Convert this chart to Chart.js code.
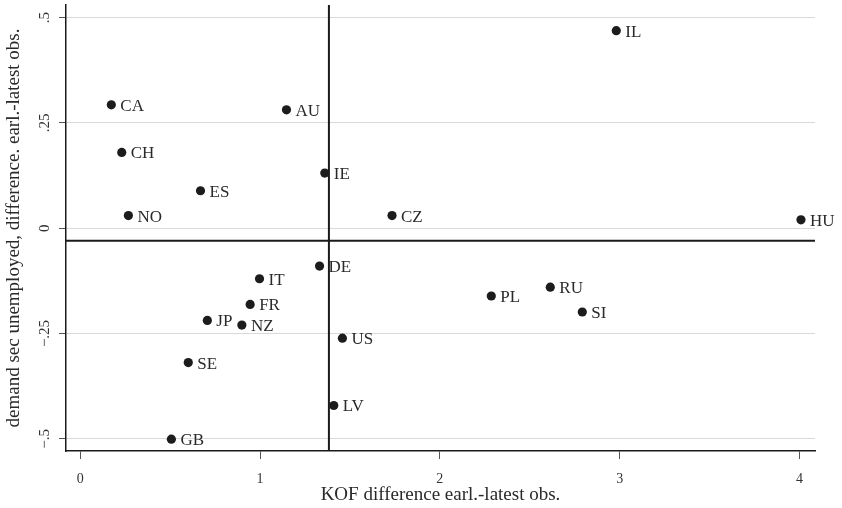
<!DOCTYPE html>
<html>
<head>
<meta charset="utf-8">
<script src="https://cdn.jsdelivr.net/npm/chart.js@4.4.0/dist/chart.umd.min.js"></script>
<style>
  html, body { margin: 0; padding: 0; background: #fff; }
  #wrap { width: 842px; height: 508px; }
</style>
</head>
<body>
<div id="wrap"><canvas id="myChart"></canvas></div>
<script>
// country codes and the two differences
var countries  = ['CA', 'AU', 'CH', 'IE', 'ES', 'NO', 'CZ', 'DE', 'IT', 'FR', 'JP', 'NZ', 'US', 'SE', 'LV', 'GB', 'IL', 'HU', 'PL', 'RU', 'SI'];
var kofDiff    = [0.173, 1.147, 0.231, 1.360, 0.669, 0.268, 1.734, 1.331, 0.997, 0.945, 0.707, 0.899, 1.458, 0.601, 1.410, 0.507, 2.981, 4.008, 2.286, 2.614, 2.792];
var demandDiff = [0.293, 0.281, 0.180, 0.131, 0.089, 0.030, 0.030, -0.090, -0.120, -0.181, -0.219, -0.230, -0.261, -0.319, -0.421, -0.501, 0.469, 0.020, -0.161, -0.140, -0.199];

var xTicks = [0, 1, 2, 3, 4];
var xTickLabels = ['0', '1', '2', '3', '4'];
var yTicks = [-0.5, -0.25, 0, 0.25, 0.5];
var yTickLabels = ['\u2212.5', '\u2212.25', '0', '.25', '.5'];

// reference lines (means)
var refX = 1.383;
var refY = -0.030;

var xMin = -0.079, xMax = 4.086;
var yMin = -0.529, yMax = 0.530;

var serif = 'Liberation Serif';

// draw the country code next to each point
var pointLabels = {
    id: 'pointLabels',
    afterDatasetsDraw: function(chart) {
        var ctx = chart.ctx;
        var meta = chart.getDatasetMeta(0);
        ctx.save();
        ctx.font = '17px "' + serif + '"';
        ctx.fillStyle = '#2a2a2a';
        ctx.textBaseline = 'middle';
        ctx.textAlign = 'left';
        meta.data.forEach(function(pt, i) {
            ctx.fillText(countries[i], pt.x + 9, pt.y + 1.5);
        });
        ctx.restore();
    }
};

var points = kofDiff.map(function(v, i) { return { x: v, y: demandDiff[i] }; });

var ctx = document.getElementById('myChart');
var chart = new Chart(ctx, {
    type: 'scatter',
    data: {
        datasets: [{
            label: 'countries',
            data: points,
            pointRadius: 4.6,
            pointHoverRadius: 4.6,
            backgroundColor: '#1c1c1c',
            borderWidth: 0
        }, {
            label: 'mean x',
            data: [{ x: refX, y: yMin }, { x: refX, y: yMax }],
            showLine: true,
            pointRadius: 0,
            borderColor: '#1a1a1a',
            borderWidth: 2
        }, {
            label: 'mean y',
            data: [{ x: xMin, y: refY }, { x: xMax, y: refY }],
            showLine: true,
            pointRadius: 0,
            borderColor: '#1a1a1a',
            borderWidth: 2
        }]
    },
    options: {
        responsive: true,
        maintainAspectRatio: false,
        animation: false,
        layout: { padding: { top: 5, right: 27, left: 0, bottom: 0 } },
        plugins: {
            legend: { display: false },
            tooltip: { enabled: false }
        },
        scales: {
            x: {
                type: 'linear',
                min: xMin,
                max: xMax,
                afterBuildTicks: function(s) { s.ticks = xTicks.map(function(v) { return { value: v }; }); },
                afterFit: function(s) { s.height = 57; s.paddingLeft = 0; s.paddingRight = 0; },
                grid: { drawOnChartArea: false, drawTicks: true, tickLength: 8, tickColor: '#555', tickWidth: 1 },
                border: { color: '#1a1a1a', width: 1.5 },
                ticks: {
                    maxRotation: 0,
                    padding: 12,
                    color: '#333',
                    font: { family: serif, size: 14 },
                    callback: function(value) { return xTickLabels[xTicks.indexOf(value)]; }
                },
                title: {
                    display: true,
                    text: 'KOF difference earl.-latest obs.',
                    color: '#2a2a2a',
                    font: { family: serif, size: 19 },
                    padding: { top: 0, bottom: 2 }
                }
            },
            y: {
                type: 'linear',
                min: yMin,
                max: yMax,
                afterBuildTicks: function(s) { s.ticks = yTicks.map(function(v) { return { value: v }; }); },
                afterFit: function(s) { s.width = 66; s.paddingTop = 0; s.paddingBottom = 0; },
                grid: { color: '#d9d9d9', lineWidth: 1, drawTicks: true, tickLength: 7, tickColor: '#555', tickWidth: 1 },
                border: { color: '#1a1a1a', width: 1.5 },
                ticks: {
                    minRotation: 90,
                    maxRotation: 90,
                    crossAlign: 'center',
                    padding: 0,
                    color: '#333',
                    font: { family: serif, size: 15 },
                    callback: function(value) { return yTickLabels[yTicks.indexOf(value)]; }
                },
                title: {
                    display: true,
                    text: 'demand sec unemployed, difference. earl.-latest obs.',
                    color: '#2a2a2a',
                    font: { family: serif, size: 19 },
                    padding: { top: 3, bottom: 0 }
                }
            }
        }
    },
    plugins: [pointLabels]
});
</script>
</body>
</html>
